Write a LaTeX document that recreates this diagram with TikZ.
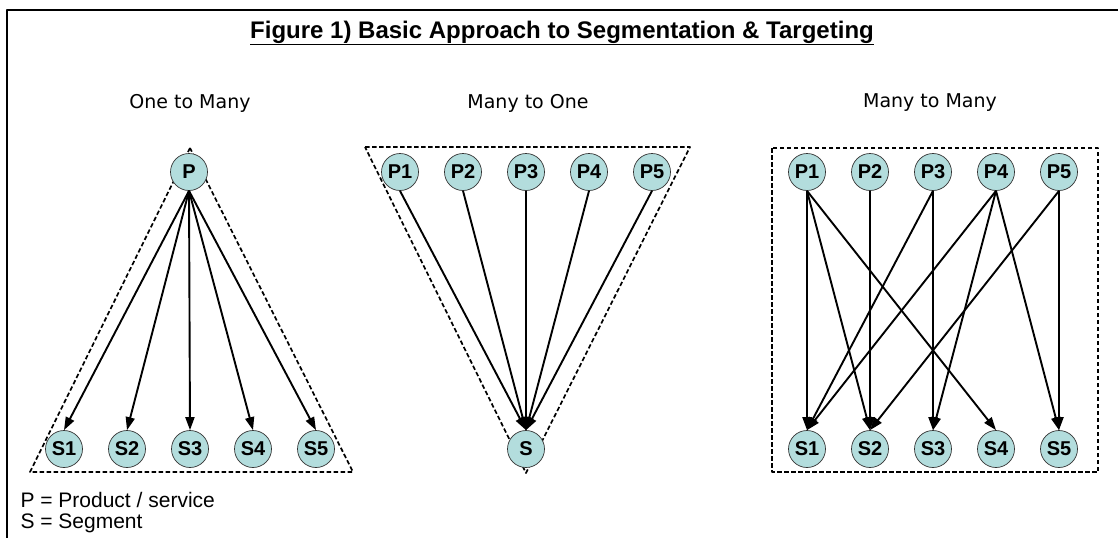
\documentclass[tikz,border=0pt]{standalone}
\usepackage{fontspec}
\setmainfont{Liberation Sans}
\newfontfamily\subfont{DejaVu Sans}
\usetikzlibrary{arrows.meta}
\definecolor{SegTeal}{HTML}{B3DDDD}
\definecolor{SegEdge}{HTML}{333333}

\tikzset{
  seg/.style={circle,fill=SegTeal,draw=SegEdge,line width=0.7pt,minimum size=37pt,inner sep=0pt,
    font=\fontsize{20}{20}\selectfont\bfseries},
  link/.style={-{Triangle[length=13pt,width=9pt]},line width=1.9pt},
  zone/.style={dash pattern=on 4.5pt off 2.5pt,line width=1.7pt},
  heading/.style={font=\subfont\fontsize{19}{19}\selectfont},
}

\begin{document}
\begin{tikzpicture}[x=1pt,y=-1pt,line join=round]
  \useasboundingbox (0,0) rectangle (1118,538);
  \draw[line width=1.5pt] (1118,10) -- (7,10) -- (7,538);
  \node[font=\fontsize{24}{24}\selectfont\bfseries] (title) at (562,33)
    {\underline{Figure 1) Basic Approach to Segmentation \& Targeting}};

  % the three groups
  \draw[zone] (190,148) -- (30,472) -- (353,472) -- cycle;
  \draw[zone] (365,147) -- (690,147) -- (526,473) -- cycle;
  \draw[zone] (772,148) rectangle (1098,472);

  \node[heading] (om) at (190,103) {One to Many};
  \node[heading] (mo) at (528,103) {Many to One};
  \node[heading] (mm) at (930,103) {Many to Many};

  % one to many
  \node[seg] (om-p) at (189,172) {P};
  \foreach \i in {1,...,5} {
    \node[seg] (om-s\i) at ({1+63*\i},449) {S\i};
    \draw[link] (om-p.south) -- (om-s\i.north);
  }

  % many to one
  \node[seg] (mo-s) at (526,449) {S};
  \foreach \i in {1,...,5} {
    \node[seg] (mo-p\i) at ({337+63*\i},172) {P\i};
    \draw[link] (mo-p\i.south) -- (mo-s.north);
  }

  % many to many
  \foreach \i in {1,...,5} {
    \node[seg] (mm-p\i) at ({744+63*\i},172) {P\i};
    \node[seg] (mm-s\i) at ({744+63*\i},449) {S\i};
  }
  \foreach \a/\b in {1/1,1/2,1/4,2/2,3/1,3/3,4/1,4/3,4/5,5/2,5/5}
    \draw[link] (mm-p\a.south) -- (mm-s\b.north);

  % legend
  \node[anchor=west,font=\fontsize{21}{21}\selectfont] (key-p) at (17,500) {P = Product / service};
  \node[anchor=west,font=\fontsize{21}{21}\selectfont] (key-s) at (17,523) {S = Segment};
\end{tikzpicture}
\end{document}
